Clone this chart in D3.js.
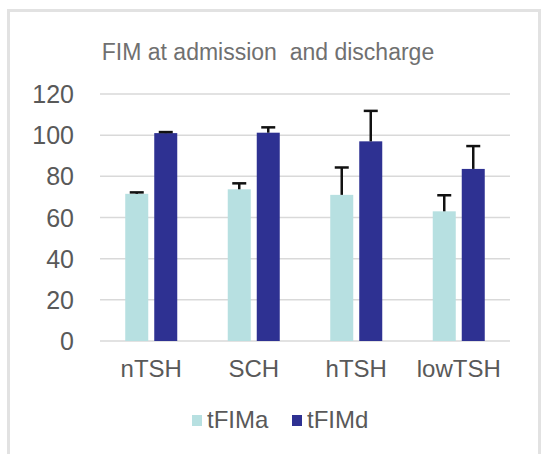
<!DOCTYPE html>
<html>
<head>
<meta charset="utf-8">
<script src="https://cdn.jsdelivr.net/npm/d3@7"></script>
<style>
    body { margin: 0; background: #fff; }
    svg { display: block; }
</style>
</head>
<body>
<div id="chart"></div>
<script>
// FIM at admission and discharge - grouped bars with error bars

const categories = ['nTSH', 'SCH', 'hTSH', 'lowTSH'];
const seriesNames = ['tFIMa', 'tFIMd'];
const tfimaValues = [71.5, 73.7, 71, 63];
const tfimaErrors = [0.7, 2.9, 13.3, 7.8];
const tfimdValues = [101, 101.2, 97, 83.6];
const tfimdErrors = [0.5, 2.6, 14.8, 11.1];
const yTicks = [0, 20, 40, 60, 80, 100, 120];

function drawChart() {
    const width = 543;
    const height = 454;

    const svg = d3.select('#chart').append('svg')
        .attr('width', width)
        .attr('height', height);

    // frame
    svg.append('path')
        .attr('d', `M8.5,${height} V10.5 H539.5 V${height}`)
        .attr('fill', 'none')
        .attr('stroke', '#e2e2e2')
        .attr('stroke-width', 3);

    const x = d3.scaleBand()
        .domain(categories)
        .range([100, 510]);

    const y = d3.scaleLinear()
        .domain([0, 120])
        .range([341, 94]);

    const colors = { tFIMa: '#b7e0e1', tFIMd: '#2e3192' };

    // gridlines
    svg.append('g')
        .selectAll('line')
        .data(yTicks)
        .enter()
        .append('line')
        .attr('x1', 100)
        .attr('x2', 510)
        .attr('y1', d => y(d))
        .attr('y2', d => y(d))
        .attr('stroke', '#d9d9d9')
        .attr('stroke-width', 1.5);

    // y labels
    svg.append('g')
        .selectAll('text')
        .data(yTicks)
        .enter()
        .append('text')
        .attr('x', 74)
        .attr('y', d => y(d) + 9)
        .attr('text-anchor', 'end')
        .attr('font-family', 'Liberation Sans, Arial, sans-serif')
        .attr('font-size', '25px')
        .attr('fill', '#595959')
        .text(d => d);

    const rows = categories.map((c, i) => ({
        cat: c,
        bars: [
            { key: 'tFIMa', value: tfimaValues[i], err: tfimaErrors[i], off: -26 },
            { key: 'tFIMd', value: tfimdValues[i], err: tfimdErrors[i], off: 3 }
        ]
    }));

    const barW = 23;
    const groups = svg.selectAll('.grp')
        .data(rows)
        .enter()
        .append('g')
        .attr('class', 'grp')
        .attr('transform', d => `translate(${x(d.cat) + x.bandwidth() / 2},0)`);

    const bars = groups.selectAll('.bar')
        .data(d => d.bars)
        .enter()
        .append('g')
        .attr('class', 'bar');

    bars.append('rect')
        .attr('x', d => d.off)
        .attr('width', barW)
        .attr('y', d => y(d.value))
        .attr('height', d => y(0) - y(d.value))
        .attr('fill', d => colors[d.key]);

    // error bars (upper only)
    bars.append('line')
        .attr('x1', d => d.off + barW / 2)
        .attr('x2', d => d.off + barW / 2)
        .attr('y1', d => y(d.value))
        .attr('y2', d => y(d.value + d.err))
        .attr('stroke', '#111')
        .attr('stroke-width', 2.5);

    bars.append('line')
        .attr('x1', d => d.off + barW / 2 - 7)
        .attr('x2', d => d.off + barW / 2 + 7)
        .attr('y1', d => y(d.value + d.err))
        .attr('y2', d => y(d.value + d.err))
        .attr('stroke', '#111')
        .attr('stroke-width', 2.5);

    // x labels
    svg.append('g')
        .selectAll('text')
        .data(categories)
        .enter()
        .append('text')
        .attr('x', d => x(d) + x.bandwidth() / 2)
        .attr('y', 377)
        .attr('text-anchor', 'middle')
        .attr('font-family', 'Liberation Sans, Arial, sans-serif')
        .attr('font-size', '24px')
        .attr('fill', '#595959')
        .text(d => d);

    // title
    svg.append('text')
        .attr('x', 268)
        .attr('y', 60)
        .attr('text-anchor', 'middle')
        .attr('font-family', 'Liberation Sans, Arial, sans-serif')
        .attr('font-size', '23px')
        .attr('fill', '#707070')
        .style('white-space', 'pre')
        .text('FIM at admission  and discharge');

    // legend
    const legendX = [192, 292];
    const legend = svg.selectAll('.legend')
        .data(seriesNames)
        .enter()
        .append('g')
        .attr('class', 'legend')
        .attr('transform', (d, i) => `translate(${legendX[i]},415)`);

    legend.append('rect')
        .attr('width', 10)
        .attr('height', 11)
        .attr('fill', d => colors[d]);

    legend.append('text')
        .attr('x', 15)
        .attr('y', 13)
        .attr('font-family', 'Liberation Sans, Arial, sans-serif')
        .attr('font-size', '24px')
        .attr('fill', '#595959')
        .text(d => d);
}

drawChart();
</script>
</body>
</html>
